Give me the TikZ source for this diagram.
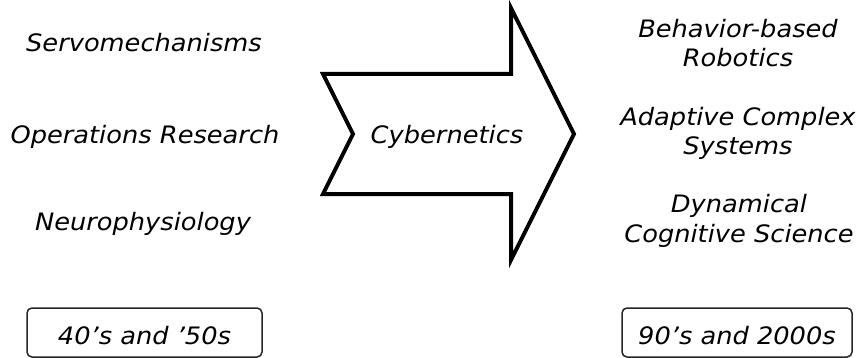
\documentclass[tikz,border=0pt]{standalone}
\usepackage{fontspec}
\setmainfont{DejaVu Sans}[FakeStretch=1.07]
\begin{document}
\begin{tikzpicture}[x=1pt,y=-1pt,
  label/.style={font=\fontsize{24}{29.5}\selectfont\itshape, align=center, anchor=base, inner sep=0pt},
  eraband/.style={draw=black!85, line width=1.5pt, rounded corners=5pt},
  bigarrow/.style={draw=black, line width=4pt, line join=miter, fill=white}]
  \useasboundingbox (0,0) rectangle (858,358);

  % chevron arrow in the middle
  \draw[bigarrow] (323,74) -- (511,74) -- (511,8) -- (574,134) -- (511,260)
    -- (511,194) -- (323,194) -- (353,134) -- cycle;
  \node[label] (cyb) at (447,144) {Cybernetics};

  % earlier disciplines
  \node[label] (servo) at (144,52) {Servomechanisms};
  \node[label] (opres) at (145,144) {Operations Research};
  \node[label] (neuro) at (143,230) {Neurophysiology};

  % later disciplines (anchored at the baseline of the last line)
  \node[label] (robot) at (738,67) {Behavior-based\\Robotics};
  \node[label] (adapt) at (738,155) {Adaptive Complex\\Systems};
  \node[label] (dyncog) at (739,242) {Dynamical\\Cognitive Science};

  % period boxes
  \draw[eraband] (27,308) rectangle (262,357);
  \node[label] (early) at (144.5,344) {40’s and ’50s};
  \draw[eraband] (622,308) rectangle (852,357);
  \node[label] (late) at (737,344) {90’s and 2000s};
\end{tikzpicture}
\end{document}
